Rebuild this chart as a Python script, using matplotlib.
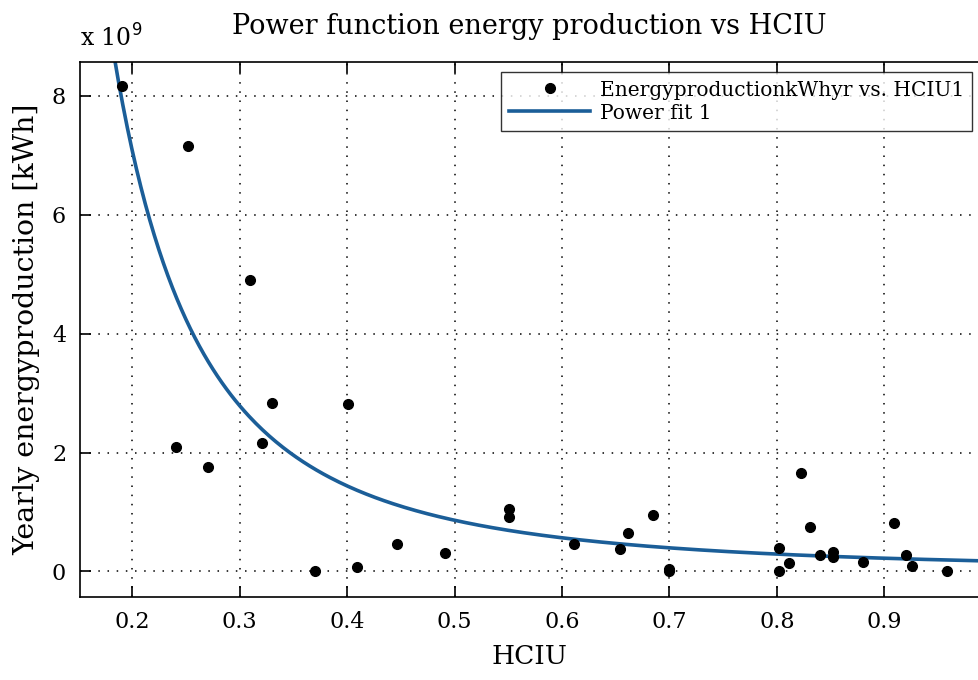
import numpy as np
import matplotlib
matplotlib.use("Agg")
import matplotlib.pyplot as plt

# Measured HCIU values and yearly energy production (x 1e9 kWh)
hciu = [0.191, 0.252, 0.241, 0.271, 0.310, 0.321, 0.330, 0.370, 0.401, 0.409,
        0.4465, 0.491, 0.551, 0.551, 0.611, 0.6535, 0.661, 0.685, 0.700, 0.700,
        0.8015, 0.8015, 0.811, 0.822, 0.831, 0.840, 0.852, 0.852, 0.880, 0.909,
        0.920, 0.926, 0.958]
energy = [8.17, 7.16, 2.10, 1.75, 4.90, 2.16, 2.84, 0.00, 2.81, 0.07,
          0.47, 0.31, 1.05, 0.91, 0.47, 0.37, 0.64, 0.95, 0.05, 0.00,
          0.39, 0.00, 0.14, 1.66, 0.74, 0.28, 0.32, 0.24, 0.165, 0.81,
          0.28, 0.10, 0.00]

# Power fit coefficients: y = a * x^b  (y in 1e9 kWh)
fit_a = 0.175
fit_b = -2.3

x_lim = (0.1515, 0.988)
y_lim = (-0.43, 8.57)
y_ticks = [0, 2, 4, 6, 8]
x_ticks = [0.2, 0.3, 0.4, 0.5, 0.6, 0.7, 0.8, 0.9]

plt.rcParams['font.family'] = ['DejaVu Serif']

fig = plt.figure(figsize=(9.79, 6.8), dpi=100)
ax = fig.add_axes([0.0817, 0.122, 0.9183, 0.7868])

x_fit = np.linspace(x_lim[0], x_lim[1], 400)
y_fit = fit_a * x_fit ** fit_b

ax.plot(hciu, energy, 'o', color='black', markersize=7,
        label='EnergyproductionkWhyr vs. HCIU1', zorder=3)
ax.plot(x_fit, y_fit, color='#1b5e98', linewidth=2.6, label='Power fit 1', zorder=2)

ax.set_xlim(x_lim)
ax.set_ylim(y_lim)
ax.set_xticks(x_ticks)
ax.set_xticklabels([str(t) for t in x_ticks])
ax.set_yticks(y_ticks)

ax.grid(True, linestyle=(0, (1, 5)), color='black', linewidth=1.1)
ax.tick_params(direction='in', length=8, width=1.2, top=True, right=False,
               labelsize=16, pad=10)
ax.spines['right'].set_visible(False)
for side in ['left', 'top', 'bottom']:
    ax.spines[side].set_linewidth(1.2)

ax.set_title('Power function energy production vs HCIU', fontsize=19.5, pad=20)
ax.set_xlabel('HCIU', fontsize=19, labelpad=8)
ax.set_ylabel('Yearly energyproduction [kWh]', fontsize=20.5, labelpad=8)
ax.text(0.0, 1.02, r'x 10$^{9}$', transform=ax.transAxes, fontsize=17,
        ha='left', va='bottom')

leg = ax.legend(loc='upper right', fontsize=14.5, frameon=True, fancybox=False,
                edgecolor='black', handlelength=4.0, borderpad=0.4,
                bbox_to_anchor=(0.997, 0.988), labelspacing=0.2,
                handletextpad=0.5, borderaxespad=0.2)
leg.get_frame().set_linewidth(1.0)

fig.savefig('out.png', dpi=100)
